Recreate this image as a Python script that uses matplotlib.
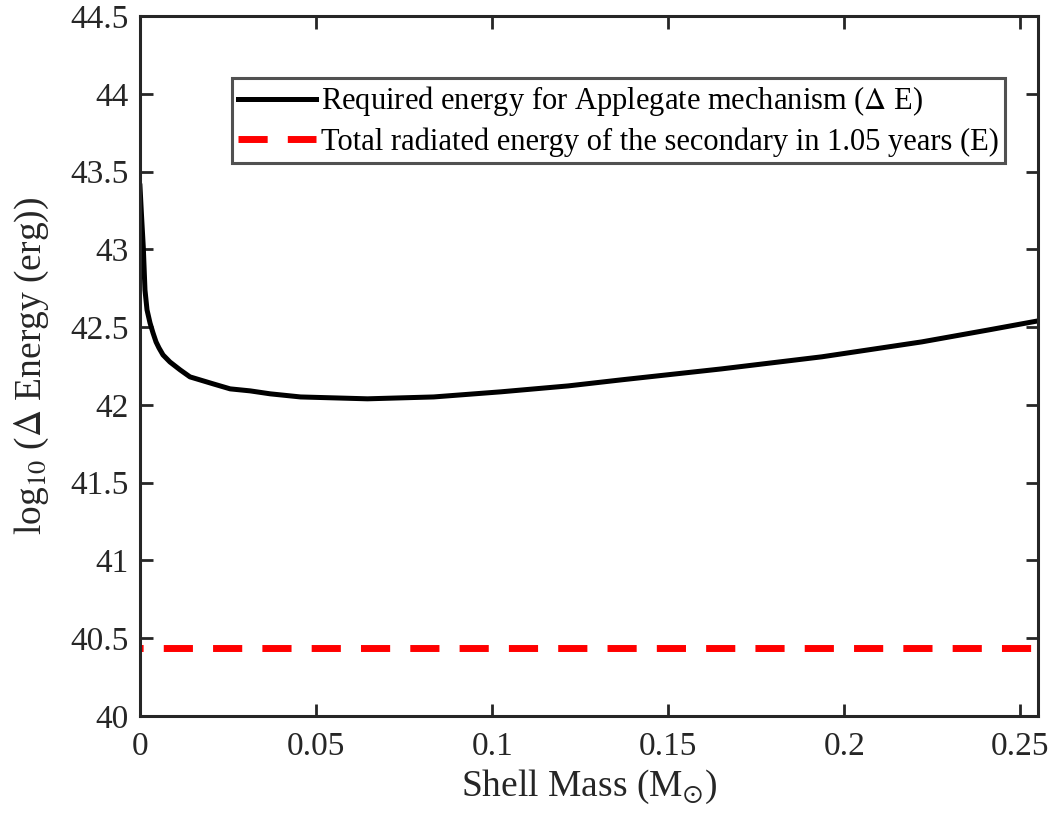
import matplotlib
matplotlib.use("Agg")
import matplotlib.pyplot as plt

plt.rcParams["font.family"] = ["Liberation Serif", "DejaVu Serif"]
plt.rcParams["mathtext.fontset"] = "stix"

# values
shell_mass = [0, 0.00043, 0.00094, 0.00142, 0.002, 0.00285, 0.0037, 0.00456,
              0.0054, 0.00655, 0.0085, 0.0114, 0.0142, 0.0208, 0.0256, 0.0313,
              0.037, 0.0456, 0.0646, 0.0834, 0.1025, 0.1216, 0.1367, 0.165,
              0.1936, 0.222, 0.241, 0.255]
delta_energy = [43.407, 43.221, 43.015, 42.739, 42.611, 42.527, 42.463, 42.405,
                42.366, 42.321, 42.276, 42.225, 42.180, 42.135, 42.103, 42.090,
                42.071, 42.051, 42.039, 42.051, 42.084, 42.122, 42.161, 42.231,
                42.309, 42.405, 42.482, 42.54]
radiated_x = [0, 0.255]
radiated_energy = [40.44, 40.44]

x_ticks = [0, 0.05, 0.1, 0.15, 0.2, 0.25]
x_tick_labels = ["0", "0.05", "0.1", "0.15", "0.2", "0.25"]
y_ticks = [40, 40.5, 41, 41.5, 42, 42.5, 43, 43.5, 44, 44.5]
y_tick_labels = ["40", "40.5", "41", "41.5", "42", "42.5", "43", "43.5", "44", "44.5"]

fig = plt.figure(figsize=(10.54, 8.22), dpi=100)
ax = fig.add_axes([0.1328, 0.129, 0.852, 0.8515])

ax.plot(shell_mass, delta_energy, color="black", linewidth=3.6,
        solid_joinstyle="round",
        label=r"Required energy for Applegate mechanism ($\Delta$ E)")
ax.plot(radiated_x, radiated_energy, color="#ff0000", linewidth=5,
        linestyle=(3.75, (4.2, 2.9)),
        label="Total radiated energy of the secondary in 1.05 years (E)")

ax.set_xlim(0, 0.255)
ax.set_ylim(40, 44.5)
ax.set_xticks(x_ticks)
ax.set_xticklabels(x_tick_labels)
ax.set_yticks(y_ticks)
ax.set_yticklabels(y_tick_labels)

ax.tick_params(direction="in", length=9, width=2, colors="#262626",
               labelsize=24, top=True, right=True, pad=8)
ax.tick_params(axis="x", pad=11)
for spine in ax.spines.values():
    spine.set_linewidth(2.2)
    spine.set_color("#262626")

ax.set_xlabel(r"Shell Mass (M$_{\odot}$)", fontsize=27, color="#262626", labelpad=4)
ax.set_ylabel(r"log$_{10}$ ($\Delta$ Energy (erg))", fontsize=27, color="#262626", labelpad=14)

leg = ax.legend(loc="upper right", bbox_to_anchor=(0.963, 0.911), fontsize=22,
                frameon=True, fancybox=False, edgecolor="#262626",
                handlelength=2.55, handletextpad=0.16, borderpad=0.2,
                labelspacing=0.3, borderaxespad=0)
leg.get_frame().set_linewidth(2.2)
# legend dash pattern starts with a full dash, as in the reference
leg.get_lines()[1].set_linestyle((0, (4.2, 2.9)))

fig.savefig("out.png", dpi=100)
